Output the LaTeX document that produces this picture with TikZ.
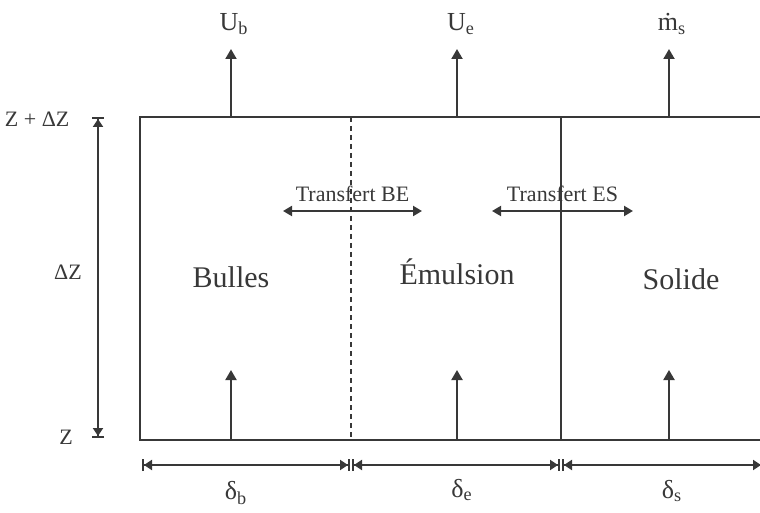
\documentclass[tikz,border=0pt]{standalone}
\usepackage{fontspec}
\setmainfont{Liberation Serif}
\usetikzlibrary{arrows.meta}

\begin{document}
\begin{tikzpicture}[x=0.5pt,y=-0.5pt,line width=1pt,color=black!78,
  flow/.style={-{Triangle[length=5pt,width=5.5pt]}},
  xfer/.style={{Triangle[length=4.5pt,width=5pt]}-{Triangle[length=4.5pt,width=5pt]}},
  cote/.style={{Bar[width=6pt,sep=0pt]Triangle[length=4pt,width=5pt,sep=0pt]}-{Triangle[length=4pt,width=5pt,sep=0pt]Bar[width=6pt,sep=0pt]}},
  phase/.style={font=\fontsize{15}{17}\selectfont},
  small/.style={font=\fontsize{11}{13}\selectfont},
  sym/.style={font=\fontsize{13}{15}\selectfont}]
  \clip (0,0) rectangle (760,513);
  % box and phase boundaries
  \coordinate (tl) at (140,117); \coordinate (bl) at (140,440); \coordinate (tr) at (775,117); \coordinate (br) at (775,440);
  \draw (tr) -- (tl) -- (bl) -- (br);
  \draw[dash pattern=on 2.5pt off 2pt] (351,117) -- (351,440); \draw (561,117) -- (561,440);
  % flows
  \foreach \x/\n in {231/b,457/e,669/s}{
    \coordinate (top\n) at (\x,117); \coordinate (up\n) at (\x,49);
    \coordinate (bot\n) at (\x,440); \coordinate (in\n) at (\x,370);
    \draw[flow] (top\n) -- (up\n); \draw[flow] (bot\n) -- (in\n);
  }
  \node[sym] (Ub) at (234,24) {U\textsubscript{b}};
  \node[sym] (Ue) at (461,24) {U\textsubscript{e}};
  \node[sym] (ms) at (672,24) {\.{m}\textsubscript{s}};
  % phases
  \node[phase] (bulles) at (231,277) {Bulles};
  \node[phase] (emul) at (457,272) {Émulsion};
  \node[phase] (solide) at (681,279) {Solide};
  % transfers
  \coordinate (beL) at (283,211); \coordinate (beR) at (422,211);
  \coordinate (esL) at (492,211); \coordinate (esR) at (633,211);
  \draw[xfer] (beL) -- (beR) node[small,midway,above=1pt] (tbe) {Transfert BE};
  \draw[xfer] (esL) -- (esR) node[small,midway,above=1pt] (tes) {Transfert ES};
  % height
  \coordinate (zt) at (98,117); \coordinate (zb) at (98,438);
  \draw[cote] (zt) -- (zb);
  \node[small,anchor=east] (zdz) at (77,119) {Z + ΔZ};
  \node[small] (dz) at (68,272) {ΔZ};
  \node[small] (z) at (66,437) {Z};
  % widths
  \coordinate (w0) at (142,465); \coordinate (w1) at (350,465); \coordinate (w2) at (352,465);
  \coordinate (w3) at (560,465); \coordinate (w4) at (562,465); \coordinate (w5) at (763,465);
  \draw[cote] (w0) -- (w1); \draw[cote] (w2) -- (w3); \draw[cote] (w4) -- (w5);
  \node[sym] (db) at (236,493) {δ\textsubscript{b}};
  \node[sym] (de) at (462,490) {δ\textsubscript{e}};
  \node[sym] (ds) at (672,491) {δ\textsubscript{s}};
\end{tikzpicture}
\end{document}
